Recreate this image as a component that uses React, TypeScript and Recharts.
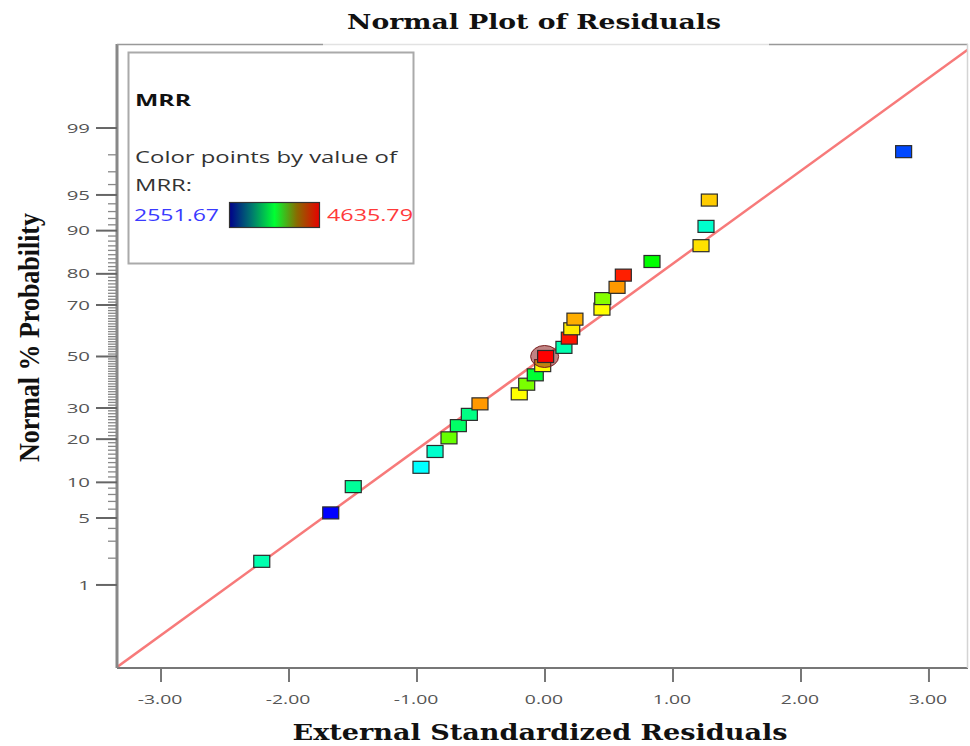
import React from 'react';
import { ScatterChart, Scatter, XAxis, YAxis, ReferenceLine } from 'recharts';

// ---- data ----
const residuals = [
  -2.213, -1.674, -1.498, -0.969, -0.859, -0.75, -0.677, -0.591, -0.508, -0.201,
  -0.143, -0.076, -0.018, 0.005, 0.148, 0.19, 0.209, 0.234, 0.445, 0.451,
  0.563, 0.612, 0.836, 1.219, 1.258, 1.284, 2.802,
];
const probabilities = [
  1.85, 5.56, 9.26, 12.96, 16.67, 20.37, 24.07, 27.78, 31.48, 35.19,
  38.89, 42.59, 46.3, 50.0, 53.7, 57.41, 61.11, 64.81, 68.52, 72.22,
  75.93, 79.63, 83.33, 87.04, 90.74, 94.44, 98.15,
];
const mrrValues = [
  3239, 2552, 3281, 3073, 3177, 3802, 3385, 3323, 4323, 4115,
  3844, 3490, 4115, 4636, 3239, 4594, 4156, 4281, 4115, 3865,
  4323, 4573, 3594, 4177, 3177, 4219, 2698,
];
const MRR_MIN = 2551.67;
const MRR_MAX = 4635.79;
const SELECTED_PROB = 50.0;

const xTicks = [-3, -2, -1, 0, 1, 2, 3];
const xDomain = [-3.344, 3.305];
const yMajorPercents = [1, 5, 10, 20, 30, 50, 70, 80, 90, 95, 99];
const yAllPercents = Array.from({ length: 99 }, (_, i) => i + 1);
const FIT_SLOPE = 0.946;

// ---- probit (normal probability axis transform) ----
function probit(p: number): number {
  const a = [-3.969683028665376e1, 2.209460984245205e2, -2.759285104469687e2, 1.38357751867269e2, -3.066479806614716e1, 2.506628277459239];
  const b = [-5.447609879822406e1, 1.615858368580409e2, -1.556989798598866e2, 6.680131188771972e1, -1.328068155288572e1];
  const c = [-7.784894002430293e-3, -3.223964580411365e-1, -2.400758277161838, -2.549732539343734, 4.374664141464968, 2.938163982698783];
  const d = [7.784695709041462e-3, 3.224671290700398e-1, 2.445134137142996, 3.754408661907416];
  const plow = 0.02425;
  const phigh = 1 - plow;
  if (p < plow) {
    const q = Math.sqrt(-2 * Math.log(p));
    return (((((c[0] * q + c[1]) * q + c[2]) * q + c[3]) * q + c[4]) * q + c[5]) / ((((d[0] * q + d[1]) * q + d[2]) * q + d[3]) * q + 1);
  }
  if (p <= phigh) {
    const q = p - 0.5;
    const r = q * q;
    return ((((((a[0] * r + a[1]) * r + a[2]) * r + a[3]) * r + a[4]) * r + a[5]) * q) / (((((b[0] * r + b[1]) * r + b[2]) * r + b[3]) * r + b[4]) * r + 1);
  }
  const q = Math.sqrt(-2 * Math.log(1 - p));
  return -(((((c[0] * q + c[1]) * q + c[2]) * q + c[3]) * q + c[4]) * q + c[5]) / ((((d[0] * q + d[1]) * q + d[2]) * q + d[3]) * q + 1);
}

const yDomain = [-3.172, 3.182];
const yTickValues = yAllPercents.map((p) => probit(p / 100));

// rainbow colour scale blue -> cyan -> green -> yellow -> red
const stops: [number, number, number][] = [
  [0, 0, 255],
  [0, 255, 255],
  [0, 255, 0],
  [255, 255, 0],
  [255, 0, 0],
];
function colorFor(v: number): string {
  let t = (v - MRR_MIN) / (MRR_MAX - MRR_MIN);
  t = Math.max(0, Math.min(1, t));
  const s = t * 4;
  const i = Math.min(3, Math.floor(s));
  const f = s - i;
  const c0 = stops[i];
  const c1 = stops[i + 1];
  const r = Math.round(c0[0] + (c1[0] - c0[0]) * f);
  const g = Math.round(c0[1] + (c1[1] - c0[1]) * f);
  const b = Math.round(c0[2] + (c1[2] - c0[2]) * f);
  return `rgb(${r},${g},${b})`;
}

const points = residuals.map((x, i) => ({
  x,
  p: probabilities[i],
  z: probit(probabilities[i] / 100),
  mrr: mrrValues[i],
}));

const fitSegment = [
  { x: xDomain[0], y: xDomain[0] * FIT_SLOPE },
  { x: xDomain[1], y: xDomain[1] * FIT_SLOPE },
];

const sans = '"Open Sans", "Noto Sans", sans-serif';

const SquareMarker = (props: any) => {
  const { cx, cy, payload } = props;
  if (cx == null || cy == null) return null;
  const w = 16;
  const h = 12;
  return (
    <g>
      {payload && payload.p === SELECTED_PROB && (
        <ellipse cx={cx - 1} cy={cy} rx={14} ry={11} fill="rgba(140,30,30,0.55)" stroke="#7a2020" strokeWidth={1} />
      )}
      <rect x={cx - w / 2} y={cy - h / 2} width={w} height={h} fill={colorFor(payload.mrr)} stroke="#2b2b2b" strokeWidth={1.2} />
    </g>
  );
};

const YTick = (props: any) => {
  const { x, y, payload } = props;
  const v = payload.value;
  let pct = 0;
  let best = Infinity;
  yAllPercents.forEach((p, i) => {
    const d = Math.abs(yTickValues[i] - v);
    if (d < best) {
      best = d;
      pct = p;
    }
  });
  const major = yMajorPercents.includes(pct);
  const len = major ? 21 : 9;
  return (
    <g>
      <line x1={x - len} x2={x} y1={y} y2={y} stroke={major ? '#666' : '#888'} strokeWidth={major ? 2 : 1.3} />
      {major && (
        <text
          transform={`translate(${x - 27},${y}) scale(1.7,1)`}
          textAnchor="end"
          dominantBaseline="central"
          fontFamily={sans}
          fontSize={12}
          fill="#555"
        >
          {pct}
        </text>
      )}
    </g>
  );
};

const XTick = (props: any) => {
  const { x, y, payload } = props;
  return (
    <text
      transform={`translate(${x - 1},${y + 20}) scale(1.55,1)`}
      textAnchor="middle"
      fontFamily={sans}
      fontSize={12.5}
      fill="#555"
    >
      {payload.value.toFixed(2)}
    </text>
  );
};

export default function App() {
  return (
    <div style={{ position: 'absolute', left: 0, top: 0, width: 970, height: 746, background: '#fff' }}>
      <ScatterChart width={970} height={746} margin={{ top: 44, right: 2, bottom: 18, left: 0 }}>
        <XAxis
          type="number"
          dataKey="x"
          domain={xDomain}
          ticks={xTicks}
          allowDataOverflow
          interval={0}
          height={60}
          tickSize={14}
          tickMargin={2}
          axisLine={{ stroke: '#777', strokeWidth: 2 }}
          tickLine={{ stroke: '#777', strokeWidth: 2 }}
          tick={<XTick />}
        />
        <YAxis
          type="number"
          dataKey="z"
          domain={yDomain}
          ticks={yTickValues}
          allowDataOverflow
          interval={0}
          width={117}
          tickSize={0}
          tickMargin={0}
          axisLine={{ stroke: '#888', strokeWidth: 3 }}
          tickLine={false}
          tick={<YTick />}
        />
        <ReferenceLine segment={fitSegment} stroke="#f77a7a" strokeWidth={2.5} ifOverflow="hidden" />
        <Scatter data={points} isAnimationActive={false} shape={<SquareMarker />} />
      </ScatterChart>

      <svg width={970} height={746} style={{ position: 'absolute', left: 0, top: 0, pointerEvents: 'none' }}>
        <defs>
          <linearGradient id="mrrGrad" x1="0" x2="1" y1="0" y2="0">
            <stop offset="0%" stopColor="#00008b" />
            <stop offset="25%" stopColor="#007a6e" />
            <stop offset="50%" stopColor="#00ff33" />
            <stop offset="75%" stopColor="#8a6a00" />
            <stop offset="100%" stopColor="#e80000" />
          </linearGradient>
        </defs>
        {/* frame */}
        <line x1={117} x2={323} y1={44.5} y2={44.5} stroke="#999" strokeWidth={1.5} />
        <line x1={323} x2={769} y1={44.5} y2={44.5} stroke="#e2e2e2" strokeWidth={1.5} />
        <line x1={769} x2={968} y1={44.5} y2={44.5} stroke="#999" strokeWidth={1.5} />
        <line x1={967.5} x2={967.5} y1={44} y2={668} stroke="#d4d4d4" strokeWidth={1.5} />

        {/* title */}
        <text x={534} y={29} textAnchor="middle" fontFamily='"DejaVu Serif", serif' fontWeight="bold" fontSize={21} textLength={374} lengthAdjust="spacingAndGlyphs" fill="#111">
          Normal Plot of Residuals
        </text>
        {/* x label */}
        <text x={540} y={740} textAnchor="middle" fontFamily='"DejaVu Serif", serif' fontWeight="bold" fontSize={22} textLength={495} lengthAdjust="spacingAndGlyphs" fill="#111">
          External Standardized Residuals
        </text>
        {/* y label */}
        <text
          transform="translate(39,337.5) rotate(-90)"
          textAnchor="middle"
          fontFamily='"Liberation Serif", serif'
          fontWeight="bold"
          fontSize={29}
          textLength={249}
          lengthAdjust="spacingAndGlyphs"
          fill="#111"
        >
          Normal % Probability
        </text>

        {/* legend box */}
        <rect x={128.5} y={52.5} width={285} height={211} fill="#fff" stroke="#aaa" strokeWidth={2} />
        <text x={135} y={106} fontFamily={sans} fontWeight="bold" fontSize={16} textLength={56} lengthAdjust="spacingAndGlyphs" fill="#111">
          MRR
        </text>
        <text x={135} y={163} fontFamily={sans} fontSize={16} textLength={262} lengthAdjust="spacingAndGlyphs" fill="#333">
          Color points by value of
        </text>
        <text x={135} y={191} fontFamily={sans} fontSize={16} textLength={57} lengthAdjust="spacingAndGlyphs" fill="#333">
          MRR:
        </text>
        <text x={134} y={221} fontFamily={sans} fontSize={16} textLength={85} lengthAdjust="spacingAndGlyphs" fill="#3a3aff">
          {MRR_MIN.toFixed(2)}
        </text>
        <rect x={229.5} y={202.5} width={90} height={25} fill="url(#mrrGrad)" stroke="#333" strokeWidth={1.2} />
        <text x={327} y={221} fontFamily={sans} fontSize={16} textLength={86} lengthAdjust="spacingAndGlyphs" fill="#ff3a3a">
          {MRR_MAX.toFixed(2)}
        </text>
      </svg>
    </div>
  );
}
